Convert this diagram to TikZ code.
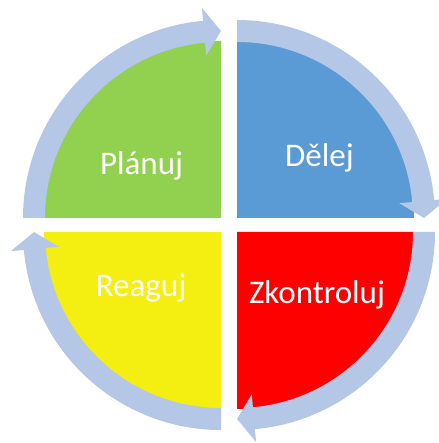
\documentclass[tikz,border=0pt]{standalone}
\usepackage{fontspec}
\setmainfont{Carlito}
\usetikzlibrary{calc}
\definecolor{planGreen}{HTML}{92D050}
\definecolor{doBlue}{HTML}{5B9BD5}
\definecolor{checkRed}{HTML}{FF0000}
\definecolor{actYellow}{HTML}{F4EF10}
\definecolor{ringBlue}{HTML}{B4C7E7}
\begin{document}
\begin{tikzpicture}[x=1pt,y=1pt,quadText/.style={text=white,font=\fontsize{33}{40}\selectfont,anchor=base,inner sep=0pt}]
\useasboundingbox(0,0)rectangle(438,443);
\coordinate(G)at(221,225);\coordinate(B)at(237,225);\coordinate(R)at(237,211);\coordinate(Y)at(221,211);
% quarter discs
\foreach\c/\a/\col in{G/90/planGreen,B/0/doBlue,R/-90/checkRed,Y/-180/actYellow}{\fill[\col](\c)--($(\c)+(\a+90:177)$)arc[start angle=\a+90,end angle=\a,radius=177]--cycle;}
% curved arrows round each quarter, head at the end
\foreach\c/\a in{G/90,B/0,R/-90,Y/-180}{\fill[ringBlue]($(\c)+(\a+90:176)$)arc[start angle=\a+90,end angle=\a+5.2,radius=176]--($(\c)+(\a+5.2:163)$)--($(\c)+(\a:187)$)--($(\c)+(\a+5.2:211)$)--($(\c)+(\a+5.2:198)$)arc[start angle=\a+5.2,end angle=\a+90,radius=198]--cycle;}
\node[quadText](plan)at(141.5,268){Plánuj};\node[quadText](do)at(319.5,276){Dělej};
\node[quadText](act)at(141,146){Reaguj};\node[quadText](check)at(317,139){Zkontroluj};
\end{tikzpicture}
\end{document}
